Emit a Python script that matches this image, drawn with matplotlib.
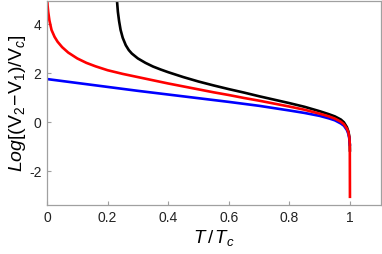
import matplotlib
matplotlib.use("Agg")
import matplotlib.pyplot as plt

plt.rcParams['font.family'] = ['Liberation Sans', 'DejaVu Sans']
plt.rcParams['mathtext.fontset'] = 'custom'
plt.rcParams['mathtext.rm'] = 'Liberation Sans'
plt.rcParams['mathtext.it'] = 'Liberation Sans:italic'
plt.rcParams['mathtext.bf'] = 'Liberation Sans:bold'

# Black curve
t_black = [0.2285, 0.231, 0.234, 0.238, 0.243, 0.25, 0.26, 0.27, 0.28, 0.30,
           0.325, 0.35, 0.375, 0.40, 0.45, 0.50, 0.55, 0.60, 0.65, 0.70,
           0.75, 0.80, 0.85, 0.90, 0.93, 0.95, 0.97, 0.98, 0.99, 0.995,
           0.998, 0.9995, 1.0]
v_black = [5.3, 4.96, 4.5, 4.12, 3.76, 3.44, 3.14, 2.94, 2.80, 2.60,
           2.42, 2.27, 2.15, 2.04, 1.84, 1.66, 1.50, 1.35, 1.21, 1.06,
           0.92, 0.78, 0.63, 0.45, 0.33, 0.24, 0.11, 0.0, -0.2, -0.38,
           -0.6, -0.9, -1.2]

# Blue curve
t_blue = [0.0, 0.1, 0.2, 0.3, 0.4, 0.5, 0.6, 0.7, 0.8, 0.85,
          0.9, 0.93, 0.95, 0.97, 0.98, 0.99, 0.995, 0.998, 1.0]
v_blue = [1.76, 1.60, 1.44, 1.28, 1.13, 0.98, 0.83, 0.67, 0.48, 0.38,
          0.26, 0.16, 0.08, -0.05, -0.14, -0.32, -0.48, -0.68, -0.96]

# Red curve
t_red = [0.0, 0.001, 0.002, 0.004, 0.008, 0.015, 0.025, 0.035, 0.05, 0.07,
         0.10, 0.13, 0.16, 0.20, 0.25, 0.30, 0.35, 0.40, 0.45, 0.50,
         0.55, 0.60, 0.65, 0.70, 0.75, 0.80, 0.85, 0.90, 0.93, 0.95,
         0.97, 0.98, 0.99, 0.995, 0.998, 0.9995, 1.0]
v_red = [5.4, 4.95, 4.75, 4.50, 4.15, 3.76, 3.48, 3.28, 3.06, 2.84,
         2.60, 2.42, 2.28, 2.12, 1.97, 1.84, 1.71, 1.58, 1.46, 1.34,
         1.22, 1.11, 0.99, 0.88, 0.76, 0.64, 0.51, 0.35, 0.24, 0.15,
         0.02, -0.08, -0.26, -0.42, -0.62, -0.9, -3.09]

x_ticks = [0, 0.2, 0.4, 0.6, 0.8, 1]
x_ticklabels = ['0', '0.2', '0.4', '0.6', '0.8', '1']
y_ticks = [-2, 0, 2, 4]
y_ticklabels = ['-2', '0', '2', '4']

fig = plt.figure(figsize=(3.82, 2.54), dpi=100)
ax = fig.add_axes([0.123, 0.192, 0.874, 0.806])

lw = 1.9
ax.plot(t_black, v_black, color='black', lw=lw, solid_capstyle='butt')
ax.plot(t_blue, v_blue, color='#0000ff', lw=lw, solid_capstyle='butt')
ax.plot(t_red, v_red, color='#ff0000', lw=lw, solid_capstyle='butt')

ax.set_xlim(0, 1.102)
ax.set_ylim(-3.38, 4.96)
ax.set_xticks(x_ticks)
ax.set_xticklabels(x_ticklabels)
ax.set_yticks(y_ticks)
ax.set_yticklabels(y_ticklabels)

for s in ax.spines.values():
    s.set_color('#a0a0a0')
    s.set_linewidth(0.9)
ax.tick_params(direction='in', length=3, width=0.8, color='#a0a0a0',
               labelsize=10, labelcolor='#222222', pad=4)

ax.set_xlabel(r'$T\,/\,T_c$', fontsize=13.5, labelpad=2)
ax.set_ylabel(r'$Log[(\mathrm{V}_2\!-\!\mathrm{V}_1)/\mathrm{V}_c]$', fontsize=14, labelpad=1)

fig.savefig('out.png', dpi=100)
